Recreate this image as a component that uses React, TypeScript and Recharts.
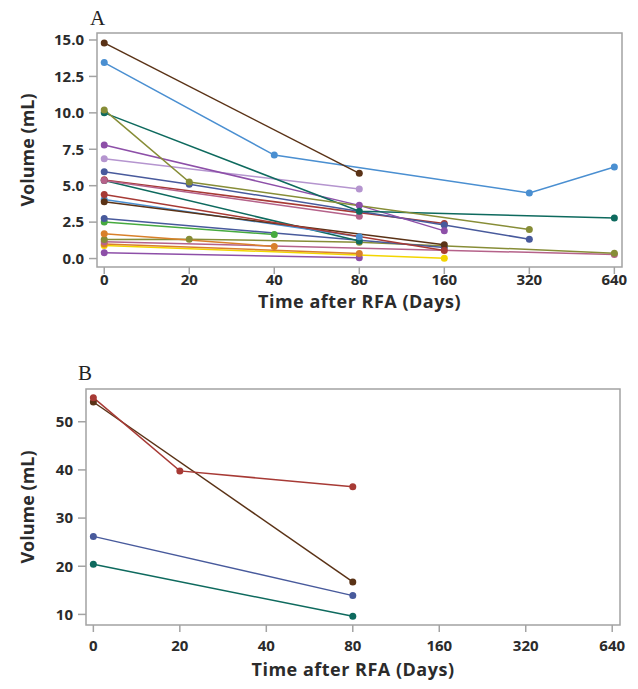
import React from 'react';
import { LineChart, Line, XAxis, YAxis, ReferenceArea } from 'recharts';

// ---------- categories ----------
const dayLabels = ['0', '20', '40', '80', '160', '320', '640'];

type Pt = { day: number; vol: number };

// ---------- colours ----------
const C = {
  brown: '#5A3216',
  lightBlue: '#4A8FD1',
  olive: '#878D37',
  teal: '#0E6A5E',
  purple: '#8D4FA8',
  lavender: '#B595CF',
  navy: '#485A9C',
  red: '#A73A35',
  pink: '#B5628A',
  green: '#46AA3F',
  orange: '#D9802B',
  yellow: '#F3D500',
};

// ---------- Panel A series (Volume mL by day) ----------
const aBrown1: Pt[] = [{ day: 0, vol: 14.8 }, { day: 80, vol: 5.85 }];
const aLightBlue1: Pt[] = [{ day: 0, vol: 13.45 }, { day: 40, vol: 7.1 }, { day: 320, vol: 4.5 }, { day: 640, vol: 6.28 }];
const aOlive1: Pt[] = [{ day: 0, vol: 10.2 }, { day: 20, vol: 5.25 }, { day: 320, vol: 2.0 }];
const aTeal1: Pt[] = [{ day: 0, vol: 10.0 }, { day: 80, vol: 3.25 }, { day: 640, vol: 2.78 }];
const aPurple1: Pt[] = [{ day: 0, vol: 7.8 }, { day: 80, vol: 3.65 }, { day: 160, vol: 1.9 }];
const aLavender1: Pt[] = [{ day: 0, vol: 6.85 }, { day: 80, vol: 4.78 }];
const aNavy1: Pt[] = [{ day: 0, vol: 5.95 }, { day: 20, vol: 5.1 }, { day: 160, vol: 2.3 }, { day: 320, vol: 1.33 }];
const aRed1: Pt[] = [{ day: 0, vol: 5.4 }, { day: 160, vol: 2.4 }];
const aPink1: Pt[] = [{ day: 0, vol: 5.35 }, { day: 80, vol: 2.9 }];
const aTeal2: Pt[] = [{ day: 0, vol: 5.35 }, { day: 80, vol: 1.2 }];
const aRed2: Pt[] = [{ day: 0, vol: 4.4 }, { day: 160, vol: 0.55 }];
const aLightBlue2: Pt[] = [{ day: 0, vol: 4.05 }, { day: 80, vol: 1.5 }];
const aBrown2: Pt[] = [{ day: 0, vol: 3.9 }, { day: 160, vol: 0.95 }];
const aNavy2: Pt[] = [{ day: 0, vol: 2.75 }, { day: 160, vol: 0.75 }];
const aGreen1: Pt[] = [{ day: 0, vol: 2.5 }, { day: 40, vol: 1.65 }];
const aOrange1: Pt[] = [{ day: 0, vol: 1.7 }, { day: 40, vol: 0.83 }];
const aOlive2: Pt[] = [{ day: 0, vol: 1.3 }, { day: 20, vol: 1.33 }, { day: 80, vol: 1.12 }, { day: 640, vol: 0.37 }];
const aPink2: Pt[] = [{ day: 0, vol: 1.15 }, { day: 640, vol: 0.28 }];
const aOrange2: Pt[] = [{ day: 0, vol: 1.0 }, { day: 80, vol: 0.35 }];
const aYellow1: Pt[] = [{ day: 0, vol: 0.9 }, { day: 160, vol: 0.02 }];
const aPurple2: Pt[] = [{ day: 0, vol: 0.4 }, { day: 80, vol: 0.05 }];

// ---------- Panel B series ----------
const bRed: Pt[] = [{ day: 0, vol: 55.0 }, { day: 20, vol: 39.8 }, { day: 80, vol: 36.5 }];
const bBrown: Pt[] = [{ day: 0, vol: 54.1 }, { day: 80, vol: 16.75 }];
const bNavy: Pt[] = [{ day: 0, vol: 26.2 }, { day: 80, vol: 13.9 }];
const bTeal: Pt[] = [{ day: 0, vol: 20.4 }, { day: 80, vol: 9.6 }];

// ---------- ticks ----------
const yTicksA = [0, 2.5, 5, 7.5, 10, 12.5, 15];
const yTicksB = [10, 20, 30, 40, 50];
const xTicks = dayLabels.map((_, i) => i);

const seriesA = [
  { id: 'aYellow1', color: C.yellow, data: aYellow1 },
  { id: 'aPurple2', color: C.purple, data: aPurple2 },
  { id: 'aOrange2', color: C.orange, data: aOrange2 },
  { id: 'aPink2', color: C.pink, data: aPink2 },
  { id: 'aOlive2', color: C.olive, data: aOlive2 },
  { id: 'aOrange1', color: C.orange, data: aOrange1 },
  { id: 'aGreen1', color: C.green, data: aGreen1 },
  { id: 'aNavy2', color: C.navy, data: aNavy2 },
  { id: 'aTeal2', color: C.teal, data: aTeal2 },
  { id: 'aLightBlue2', color: C.lightBlue, data: aLightBlue2 },
  { id: 'aBrown2', color: C.brown, data: aBrown2 },
  { id: 'aRed2', color: C.red, data: aRed2 },
  { id: 'aRed1', color: C.red, data: aRed1 },
  { id: 'aPink1', color: C.pink, data: aPink1 },
  { id: 'aNavy1', color: C.navy, data: aNavy1 },
  { id: 'aLavender1', color: C.lavender, data: aLavender1 },
  { id: 'aPurple1', color: C.purple, data: aPurple1 },
  { id: 'aTeal1', color: C.teal, data: aTeal1 },
  { id: 'aOlive1', color: C.olive, data: aOlive1 },
  { id: 'aLightBlue1', color: C.lightBlue, data: aLightBlue1 },
  { id: 'aBrown1', color: C.brown, data: aBrown1 },
];

const seriesB = [
  { id: 'bTeal', color: C.teal, data: bTeal },
  { id: 'bNavy', color: C.navy, data: bNavy },
  { id: 'bBrown', color: C.brown, data: bBrown },
  { id: 'bRed', color: C.red, data: bRed },
];

const toXY = (pts: Pt[]) => pts.map((p) => ({ x: dayLabels.indexOf(String(p.day)), vol: p.vol }));

const FONT = '"Open Sans", "Noto Sans", sans-serif';
const FRAME = '#A3A3A3';
const TXT = '#2B2B2B';
const xDomain: [number, number] = [-0.085, 6.09];

const tickStyle = { fill: TXT, fontSize: 15, fontWeight: 700, fontFamily: FONT };

const makeXTitle = (dy: number) => (props: any) => {
  const vb = props.viewBox || {};
  return (
    <text
      x={vb.x + vb.width / 2}
      y={vb.y + dy}
      textAnchor="middle"
      fill={TXT}
      fontSize={18}
      fontWeight={700}
      fontFamily={FONT}
      letterSpacing={0.5}
    >
      Time after RFA (Days)
    </text>
  );
};

const makeYTitle = (cx: number) => (props: any) => {
  const vb = props.viewBox || {};
  const cy = vb.y + vb.height / 2;
  return (
    <text
      x={cx}
      y={cy}
      transform={`rotate(-90 ${cx} ${cy})`}
      textAnchor="middle"
      dominantBaseline="central"
      fill={TXT}
      fontSize={18}
      fontWeight={700}
      fontFamily={FONT}
    >
      Volume (mL)
    </text>
  );
};

function Panel(props: {
  height: number;
  margin: { top: number; right: number; bottom: number; left: number };
  yDomain: [number, number];
  yTicks: number[];
  yFmt: (v: number) => string;
  series: { id: string; color: string; data: Pt[] }[];
  yTitleX: number;
  xTickMargin: number;
  xTitleDy: number;
}) {
  const { height, margin, yDomain, yTicks, yFmt, series, yTitleX, xTickMargin, xTitleDy } = props;
  return (
    <LineChart width={638} height={height} margin={margin}>
      <XAxis
        dataKey="x"
        type="number"
        domain={xDomain}
        ticks={xTicks}
        allowDataOverflow
        tickFormatter={(i: number) => dayLabels[i]}
        axisLine={false}
        tickLine={{ stroke: FRAME, strokeWidth: 1.5 }}
        tickSize={7}
        tickMargin={xTickMargin}
        tick={tickStyle}
        height={30}
        interval={0}
        label={makeXTitle(xTitleDy)}
      />
      <YAxis
        type="number"
        domain={yDomain}
        ticks={yTicks}
        allowDataOverflow
        tickFormatter={yFmt}
        axisLine={false}
        tickLine={{ stroke: FRAME, strokeWidth: 1.5 }}
        tickSize={8}
        tickMargin={5}
        tick={tickStyle}
        width={60}
        interval={0}
        label={makeYTitle(yTitleX)}
      />
      <ReferenceArea
        x1={xDomain[0]}
        x2={xDomain[1]}
        y1={yDomain[0]}
        y2={yDomain[1]}
        fill="none"
        fillOpacity={0}
        stroke={FRAME}
        strokeWidth={1.5}
        ifOverflow="visible"
      />
      {series.map((s) => (
        <Line
          key={s.id}
          data={toXY(s.data)}
          dataKey="vol"
          type="linear"
          stroke={s.color}
          strokeWidth={1.5}
          dot={{ r: 3.5, fill: s.color, stroke: s.color, strokeWidth: 0 }}
          activeDot={false}
          isAnimationActive={false}
        />
      ))}
    </LineChart>
  );
}

export default function App() {
  return (
    <div style={{ position: 'absolute', left: 0, top: 0, width: 638, height: 689, background: '#fff', overflow: 'hidden' }}>
      <div style={{ position: 'absolute', left: 0, top: 0 }}>
        <Panel
          height={330}
          margin={{ top: 33, right: 16, bottom: 33, left: 37 }}
          yDomain={[-0.58, 15.48]}
          yTicks={yTicksA}
          yFmt={(v) => v.toFixed(1)}
          series={seriesA}
          yTitleX={27}
          xTickMargin={0}
          xTitleDy={41}
        />
      </div>
      <div style={{ position: 'absolute', left: 0, top: 340 }}>
        <Panel
          height={349}
          margin={{ top: 49, right: 18, bottom: 34, left: 26 }}
          yDomain={[7.8, 56.8]}
          yTicks={yTicksB}
          yFmt={(v) => String(v)}
          series={seriesB}
          yTitleX={27}
          xTickMargin={8}
          xTitleDy={51}
        />
      </div>
      <div style={{ position: 'absolute', left: 90, top: 8, fontFamily: '"Liberation Serif", serif', fontSize: 21, lineHeight: '21px', color: '#222' }}>A</div>
      <div style={{ position: 'absolute', left: 78, top: 363, fontFamily: '"Liberation Serif", serif', fontSize: 21, lineHeight: '21px', color: '#222' }}>B</div>
    </div>
  );
}
